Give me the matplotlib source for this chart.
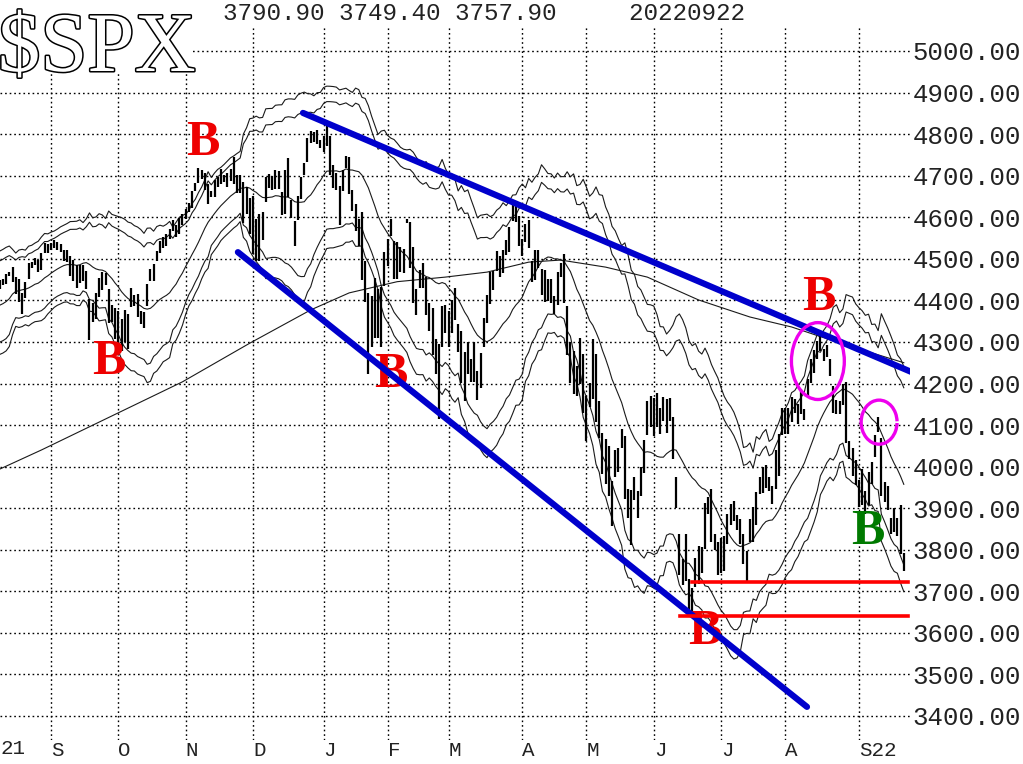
import numpy as np
import pandas as pd
import matplotlib
matplotlib.use("Agg")
import matplotlib.pyplot as plt
from matplotlib.patches import Ellipse, Arc, Rectangle
import matplotlib.patheffects as pe

# ---------------- data ----------------
holidays = ['2021-07-05', '2021-09-06', '2021-11-25', '2021-12-24', '2022-01-17',
            '2022-02-21', '2022-04-15', '2022-05-30', '2022-06-20', '2022-07-04', '2022-09-05']
dates = pd.bdate_range('2021-07-01', '2022-09-22', freq='C', holidays=holidays)

close = [
    # Jul 2021
    4319.94, 4352.34, 4343.54, 4358.13, 4320.82, 4369.55, 4384.63, 4369.21, 4374.30, 4360.03, 4327.16,
    4258.49, 4323.06, 4358.69, 4367.48, 4411.79, 4422.30, 4401.46, 4400.64, 4419.15, 4395.26,
    # Aug 2021
    4387.16, 4423.15, 4402.66, 4429.10, 4436.52, 4432.35, 4436.75, 4447.70, 4460.83, 4468.00, 4479.71,
    4448.08, 4400.27, 4405.80, 4441.67, 4479.53, 4486.23, 4496.19, 4470.00, 4509.37, 4528.79, 4522.68,
    # Sep 2021
    4524.09, 4536.95, 4535.43, 4520.03, 4514.07, 4493.28, 4458.58, 4468.73, 4443.05, 4480.70, 4473.75,
    4432.99, 4357.73, 4354.19, 4395.64, 4448.98, 4455.48, 4443.11, 4352.63, 4359.46, 4307.54,
    # Oct 2021
    4357.04, 4300.46, 4345.72, 4363.55, 4399.76, 4391.34, 4361.19, 4350.65, 4363.80, 4438.26, 4471.37,
    4486.46, 4519.63, 4536.19, 4549.78, 4544.90, 4566.48, 4574.79, 4551.68, 4596.42, 4605.38,
    # Nov 2021
    4613.67, 4630.65, 4660.57, 4680.06, 4697.53, 4701.70, 4685.25, 4646.71, 4649.27, 4682.85, 4682.80,
    4700.90, 4688.67, 4704.54, 4697.96, 4682.94, 4690.70, 4701.46, 4594.62, 4655.27, 4567.00,
    # Dec 2021
    4513.04, 4577.10, 4538.43, 4591.67, 4686.75, 4701.21, 4667.45, 4712.02, 4668.97, 4634.09, 4709.85,
    4668.67, 4620.64, 4568.02, 4649.23, 4696.56, 4725.79, 4791.19, 4786.35, 4793.06, 4778.73, 4766.18,
    # Jan 2022
    4796.56, 4793.54, 4700.58, 4696.05, 4677.03, 4670.29, 4713.07, 4726.35, 4659.03, 4662.85,
    4577.11, 4532.76, 4482.73, 4397.94, 4410.13, 4356.45, 4349.93, 4326.51, 4431.85, 4515.55,
    # Feb 2022
    4546.54, 4589.38, 4477.44, 4500.53, 4483.87, 4521.54, 4587.18, 4504.08, 4418.64, 4401.67,
    4471.07, 4475.01, 4380.26, 4348.87, 4304.76, 4225.50, 4288.70, 4384.65, 4373.94,
    # Mar 2022
    4306.26, 4386.54, 4363.49, 4328.87, 4201.09, 4170.70, 4277.88, 4259.52, 4204.31, 4173.11, 4262.45,
    4357.86, 4411.67, 4463.12, 4461.18, 4511.61, 4456.24, 4520.16, 4543.06, 4575.52, 4631.60, 4602.45,
    4530.41,
    # Apr 2022
    4545.86, 4582.64, 4525.12, 4481.15, 4500.21, 4488.28, 4412.53, 4397.45, 4446.59, 4392.59,
    4391.69, 4462.21, 4459.45, 4393.66, 4271.78, 4296.12, 4175.20, 4183.96, 4287.50, 4131.93,
    # May 2022
    4155.38, 4175.48, 4300.17, 4146.87, 4123.34, 3991.24, 4001.05, 3935.18, 3930.08, 4023.89, 4008.01,
    4088.85, 3923.68, 3900.79, 3901.36, 3973.75, 3941.48, 3978.73, 4057.84, 4158.24, 4132.15,
    # Jun 2022
    4101.23, 4176.82, 4108.54, 4121.43, 4160.68, 4115.77, 4017.82, 3900.86, 3749.63, 3735.48, 3789.99,
    3666.77, 3674.84, 3764.79, 3759.89, 3795.73, 3911.74, 3900.11, 3821.55, 3818.83, 3785.38,
    # Jul 2022
    3825.33, 3831.39, 3845.08, 3902.62, 3899.38, 3854.43, 3818.80, 3801.78, 3790.38, 3863.16,
    3830.85, 3936.69, 3959.90, 3998.95, 3961.63, 3966.84, 3921.05, 4023.61, 4072.43, 4130.29,
    # Aug 2022
    4118.63, 4091.19, 4155.17, 4151.94, 4145.19, 4140.06, 4122.47, 4210.24, 4207.27, 4280.15, 4297.14,
    4305.20, 4274.04, 4283.74, 4228.48, 4137.99, 4128.73, 4140.77, 4199.12, 4057.66, 4030.61, 3986.16,
    3955.00,
    # Sep 2022
    3966.85, 3924.26, 3908.19, 3979.87, 4006.18, 4067.36, 4110.41, 3932.69, 3946.01, 3901.35, 3873.33,
    3899.89, 3855.93, 3789.93, 3757.99,
]

# high - close and close - low for the plotted bars (from 2021-08-09)
high_off = [
    10, 12, 3, 2, 0, 0, 8, 50, 12, 3, 10, 6, 5, 28, 4, 9, 12,
    14, 9, 6, 16, 6, 27, 47, 29, 42, 4, 11, 38, 45, 39, 21, 6, 13, 22, 75, 30, 75,
    18, 55, 30, 3, 30, 21, 54, 24, 9, 1, 4, 2, 0, 7, 2, 15, 6, 19, 29, 1, 3,
    7, 4, 3, 3, 21, 13, 22, 34, 13, 6, 14, 14, 13, 1, 19, 61, 12, 1, 91, 18, 79,
    139, 18, 70, 21, 9, 4, 31, 1, 42, 26, 4, 75, 20, 22, 1, 1, 5, 0, 22, 11, 30, 20,
    0, 25, 96, 29, 30, 6, 1, 22, 85, 3, 55, 63, 130, 96, 7, 55, 104, 102, 0, 1,
    1, 6, 65, 39, 44, 3, 8, 85, 109, 25, 1, 15, 76, 46, 76, 81, 6, 1, 14,
    69, 15, 66, 14, 126, 106, 21, 0, 95, 56, 10, 0, 1, 4, 9, 8, 51, 0, 3, 0, 6, 25, 73,
    3, 1, 68, 13, 21, 32, 62, 75, 6, 60, 18, 6, 30, 119, 114, 3, 103, 57, 21, 138,
    14, 25, 7, 124, 35, 90, 66, 114, 35, 15, 38, 2, 150, 45, 42, 2, 0, 21, 7, 0, 37,
    64, 1, 33, 47, 3, 49, 102, 74, 89, 42, 48, 62, 33, 15, 50, 12, 1, 27, 124, 18, 33,
    4, 1, 42, 8, 19, 30, 55, 37, 6, 12, 72, 3, 15, 1, 42, 9, 32, 16, 6, 10,
    22, 49, 12, 10, 6, 46, 15, 1, 51, 0, 4, 20, 10, 8, 30, 57, 31, 16, 0, 146, 32, 58, 60,
    0, 70, 34, 8, 4, 9, 9, 137, 16, 53, 2, 1, 20, 118, 33,
]
low_off = [
    8, 10, 11, 21, 9, 36, 32, 5, 38, 35, 29, 8, 11, 1, 36, 15, 9,
    2, 12, 14, 3, 20, 0, 0, 23, 14, 39, 26, 6, 52, 7, 41, 42, 30, 7, 6, 12, 0,
    69, 22, 45, 80, 16, 6, 1, 7, 30, 52, 24, 39, 26, 23, 23, 13, 19, 7, 0, 36, 24,
    18, 17, 39, 17, 16, 9, 20, 16, 0, 33, 10, 21, 4, 32, 10, 2, 32, 42, 9, 47, 7,
    2, 82, 43, 46, 50, 30, 1, 45, 2, 28, 102, 21, 23, 37, 55, 52, 25, 58, 7, 12, 3, 0,
    40, 22, 0, 25, 11, 88, 50, 9, 2, 49, 9, 2, 33, 3, 187, 69, 40, 17, 144, 80,
    63, 35, 26, 50, 15, 56, 0, 27, 24, 37, 42, 46, 15, 22, 37, 3, 174, 98, 52,
    19, 64, 11, 53, 0, 13, 55, 55, 0, 12, 74, 70, 66, 73, 37, 42, 1, 55, 35, 58, 40, 14, 0,
    39, 43, 0, 38, 50, 11, 0, 1, 49, 0, 24, 74, 4, 0, 4, 96, 0, 14, 88, 4,
    93, 31, 137, 40, 55, 10, 42, 7, 72, 50, 20, 45, 1, 24, 91, 54, 66, 49, 73, 81, 38,
    28, 81, 29, 12, 80, 5, 0, 0, 10, 20, 66, 27, 38, 55, 43, 52, 111, 13, 3, 20, 47,
    82, 82, 31, 44, 30, 6, 5, 36, 68, 45, 12, 76, 25, 63, 12, 26, 10, 77, 95, 54,
    39, 12, 48, 24, 43, 13, 10, 40, 6, 55, 37, 28, 21, 19, 10, 10, 2, 15, 51, 0, 13, 9, 0,
    63, 17, 21, 73, 48, 45, 26, 4, 32, 5, 35, 56, 24, 0, 9,
]

# 200-day moving average
ma200_dates = ['2021-08-10', '2021-08-27', '2021-10-29', '2021-11-30', '2021-12-28', '2022-01-13',
               '2022-02-04', '2022-02-28', '2022-03-17', '2022-04-05', '2022-04-20', '2022-05-10',
               '2022-05-27', '2022-06-22', '2022-07-15', '2022-08-03', '2022-08-23', '2022-09-22']
ma200_vals = [3994, 4040, 4204, 4297, 4377, 4418, 4445, 4456, 4468, 4492, 4497, 4480,
              4456, 4401, 4360, 4336, 4300, 4250]

y_ticks = list(range(3400, 5001, 100))
month_labels = ['S', 'O', 'N', 'D', 'J', 'F', 'M', 'A', 'M', 'J', 'J', 'A', 'S22']
header = '3790.90 3749.40 3757.90     20220922'

# ---------------- derived ----------------
n = min(len(dates), len(close))
dates = dates[:n]
c = pd.Series(close[:n], dtype=float)
OFF = 26  # index of 2021-08-09
x = np.arange(n) - OFF

# 20-day average with volatility bands (20-day volatility of daily changes)
ma20 = c.rolling(20).mean()
vol = np.sqrt((c.diff() ** 2).rolling(20).mean())
up_a = ma20 + 4.4 * vol
up_b = ma20 + 3.6 * vol
lo_c = ma20 - 3.0 * vol
lo_d = ma20 - 4.0 * vol

m = min(len(high_off), len(low_off), n - OFF)
xb = x[OFF:OFF + m]
cb = c.values[OFF:OFF + m]
hi = cb + np.array(high_off[:m])
lo = cb - np.array(low_off[:m])

mx = dates.get_indexer(pd.to_datetime(ma200_dates)) - OFF

# ---------------- figure ----------------
W, H = 1023, 764
fig = plt.figure(figsize=(W / 100, H / 100), dpi=100)
ax_top_px, ax_bot_px, ax_right_px = 25, 740, 910
ax = fig.add_axes([0, 1 - ax_bot_px / H, ax_right_px / W, (ax_bot_px - ax_top_px) / H])

px_per_100 = 41.5625
ax.set_ylim(3400 - (ax_bot_px - 716) / px_per_100 * 100, 3400 + (716 - ax_top_px) / px_per_100 * 100)
ax.set_xlim(1.092, 1.092 + ax_right_px / 3.206)

for s in ax.spines.values():
    s.set_visible(False)

# grid
ax.set_axisbelow(True)
ax.grid(True, color='black', linestyle=(0, (1.2, 2.1)), linewidth=1.0)

# y ticks on right
ax.yaxis.tick_right()
ax.set_yticks(y_ticks)
ax.set_yticklabels([f'{v:.2f}' for v in y_ticks], fontfamily='Liberation Mono', fontsize=18.5, color='#222222')
ax.tick_params(axis='y', length=0, pad=2)

# x ticks at month starts
mon = dates.month.values
starts = [i for i in range(1, n) if mon[i] != mon[i - 1]]
start_x = [x[i] for i in starts if x[i] >= 1.092]
ax.set_xticks(start_x)
ax.set_xticklabels(month_labels[:len(start_x)], fontfamily='Liberation Mono', fontsize=15, color='#222222')
for t in ax.get_xticklabels():
    t.set_ha('left')
ax.tick_params(axis='x', length=0, pad=1)
fig.text(0.0, 1 - 748 / H, '21', fontfamily='Liberation Mono', fontsize=15, color='#222222',
         ha='left', va='center')

# bands and averages
lw_thin = 0.8
for band in (up_a, up_b, ma20, lo_c, lo_d):
    ax.plot(x, band.values, color='#1a1a1a', lw=lw_thin, zorder=2)
ax.plot(mx, ma200_vals, color='#1a1a1a', lw=lw_thin, zorder=2)

# price bars
ax.vlines(xb, lo, hi, color='black', lw=1.6, zorder=3)

# B labels
bfont = dict(fontfamily='Liberation Serif', fontweight='bold', fontsize=36, ha='center', va='center', zorder=4)
for (bx, by) in [(64.4, 4778), (35.0, 4252), (123.0, 4220), (221.0, 3602), (256.5, 4406)]:
    ax.text(bx, by, 'B', color='#ee0000', **bfont)
ax.text(271.8, 3843, 'B', color='#007a00', **bfont)

# trend lines
ax.plot([95.6, 285.9], [4851, 4226], color='#0000cc', lw=4.5, solid_capstyle='round', zorder=5)
ax.plot([75.3, 252.8], [4516, 3422], color='#0000cc', lw=4.5, solid_capstyle='round', zorder=5)

# support lines
ax.plot([217.0, 284.3], [3723, 3723], color='#ff0000', lw=2.6, zorder=6)
ax.plot([213.2, 284.3], [3641, 3641], color='#ff0000', lw=2.6, zorder=6)

# magenta marks
ax.add_patch(Ellipse((256.2, 4254), 16.5, 185, fill=False, ec='#ee00ee', lw=2.4, zorder=7))
ax.add_patch(Arc((275.3, 4107), 11.2, 106, theta1=20, theta2=340, ec='#ee00ee', lw=2.4, zorder=7))

# title area
fig.patches.append(Rectangle((0, 1 - 72 / H), 193 / W, 72 / H, transform=fig.transFigure,
                             facecolor='white', edgecolor='none', zorder=1))
fig.text(-0.002, 1 - 71 / H, '$SPX', fontfamily='Liberation Serif', fontsize=61, color='white',
         ha='left', va='baseline', zorder=2,
         path_effects=[pe.Stroke(linewidth=2.2, foreground='black'), pe.Normal()])
fig.text(223 / W, 1 - 13 / H, header, fontfamily='Liberation Mono', fontsize=17.5, color='#222222',
         ha='left', va='center', zorder=2)

fig.savefig('out.png', dpi=100)
